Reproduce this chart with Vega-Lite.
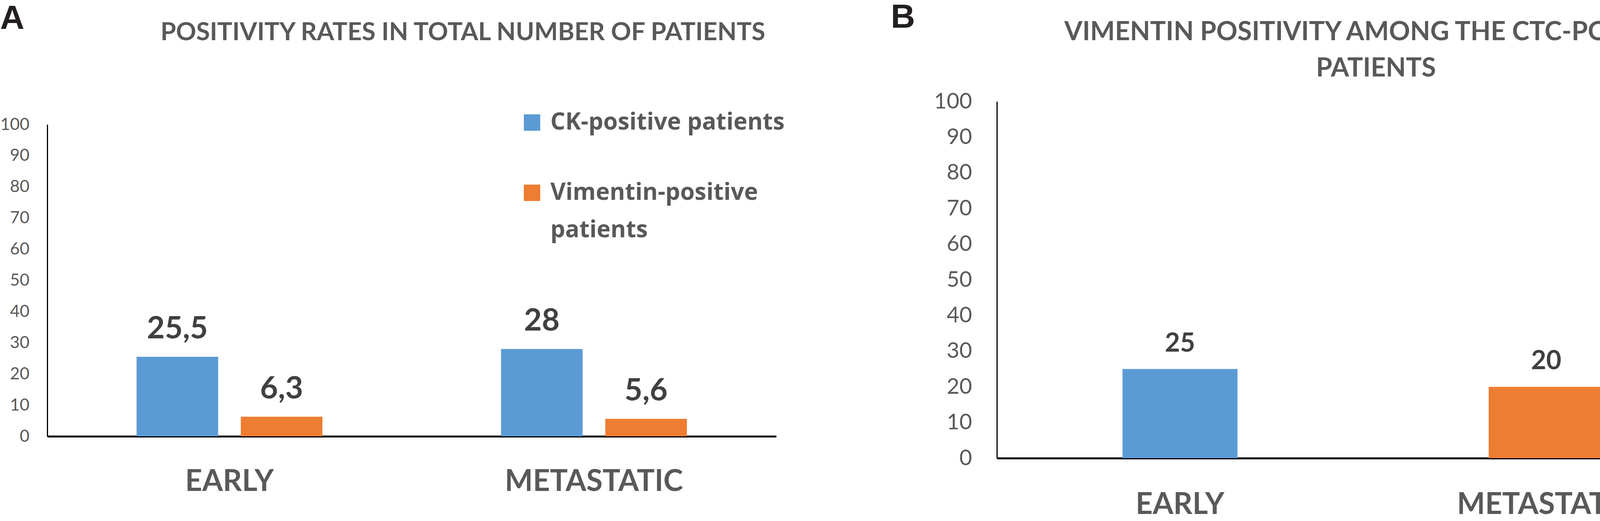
{
  "$schema": "https://vega.github.io/schema/vega-lite/v6.json",
  "background": "white",
  "padding": {"left": 0, "top": 2, "right": 0, "bottom": 0},
  "spacing": 271,
  "resolve": {"scale": {"color": "independent"}, "legend": {"color": "independent"}},
  "config": {
    "view": {"stroke": null},
    "locale": {"number": {"decimal": ",", "thousands": ".", "grouping": [3], "currency": ["", " €"]}},
    "style": {"guide-label": {"lineHeight": 96}},
    "axis": {"grid": false, "ticks": false, "domainColor": "#000000", "labelColor": "#595959", "labelFont": "Lato", "title": null, "labelLimit": 2000}
  },
  "hconcat": [
    {
      "title": {"text": "A", "anchor": "start", "frame": "bounds", "font": "Liberation Sans", "fontSize": 86, "fontWeight": "bold", "color": "#231F20", "offset": -40},
      "vconcat": [
        {
          "width": 1866,
          "height": 858,
          "title": {"text": "POSITIVITY RATES IN TOTAL NUMBER OF PATIENTS", "anchor": "middle", "frame": "group", "dx": 131, "offset": 144, "font": "Lato", "fontSize": 64, "fontWeight": "bold", "color": "#595959"},
          "data": {"values": [
            {"stage": "EARLY", "group": "CK-positive patients", "value": 25.5},
            {"stage": "EARLY", "group": "Vimentin-positive patients", "value": 6.3},
            {"stage": "METASTATIC", "group": "CK-positive patients", "value": 28},
            {"stage": "METASTATIC", "group": "Vimentin-positive patients", "value": 5.6}
          ]},
          "encoding": {
            "x": {"field": "stage", "type": "nominal", "sort": ["EARLY", "METASTATIC"],
              "scale": {"paddingInner": 0.49, "paddingOuter": 0.245},
              "axis": {"labelAngle": 0, "labelFontSize": 76, "labelFontWeight": "bold", "labelPadding": 79, "domainWidth": 5}},
            "xOffset": {"field": "group", "type": "nominal", "scale": {"paddingInner": 0.217, "paddingOuter": 0}},
            "y": {"field": "value", "type": "quantitative", "scale": {"domain": [0, 100], "range": [858, 59]},
              "axis": {"values": [0, 10, 20, 30, 40, 50, 60, 70, 80, 90, 100], "labelFontSize": 43, "labelPadding": 46, "domainWidth": 3}}
          },
          "layer": [
            {
              "mark": {"type": "bar"},
              "encoding": {
                "color": {"field": "group", "type": "nominal",
                  "scale": {"domain": ["CK-positive patients", "Vimentin-positive patients"], "range": ["#5B9BD5", "#ED7D31"]},
                  "legend": {"title": null, "orient": "none", "legendX": 1211, "legendY": 24, "direction": "vertical", "padding": 0,
                    "symbolType": "square", "symbolSize": 1764, "symbolStrokeWidth": 0, "labelFont": "Open Sans", "labelFontSize": 60, "labelFontWeight": "bold", "labelColor": "#595959", "labelOffset": 17, "rowPadding": 120, "labelLimit": 2000,
                    "labelExpr": "datum.label == 'Vimentin-positive patients' ? ['Vimentin-positive', 'patients'] : datum.label"}
                }
              }
            },
            {
              "mark": {"type": "text", "baseline": "alphabetic", "dy": -47, "font": "Lato", "fontSize": 79, "fontWeight": "bold", "color": "#404040"},
              "encoding": {"text": {"field": "value", "type": "quantitative", "format": ".1~f"}}
            }
          ]
        }
      ]
    },
    {
      "title": {"text": "B", "anchor": "start", "frame": "bounds", "font": "Liberation Sans", "fontSize": 86, "fontWeight": "bold", "color": "#231F20", "offset": -40, "dx": -110},
      "vconcat": [
        {
          "width": 1875,
          "height": 914,
          "title": {"text": ["VIMENTIN POSITIVITY AMONG THE CTC-POSITIVE", "PATIENTS"], "lineHeight": 93, "anchor": "middle", "frame": "group", "dx": 33, "offset": 22, "font": "Lato", "fontSize": 67, "fontWeight": "bold", "color": "#595959"},
          "data": {"values": [
            {"stage": "EARLY", "value": 25},
            {"stage": "METASTATIC", "value": 20}
          ]},
          "encoding": {
            "x": {"field": "stage", "type": "nominal", "sort": ["EARLY", "METASTATIC"],
              "scale": {"paddingInner": 0.686, "paddingOuter": 0.343},
              "axis": {"labelAngle": 0, "labelFontSize": 76, "labelFontWeight": "bold", "labelPadding": 82, "domainWidth": 5}},
            "y": {"field": "value", "type": "quantitative", "scale": {"domain": [0, 100]},
              "axis": {"values": [0, 10, 20, 30, 40, 50, 60, 70, 80, 90, 100], "labelFontSize": 56, "labelPadding": 64, "domainWidth": 3}}
          },
          "layer": [
            {
              "mark": {"type": "bar"},
              "encoding": {
                "color": {"field": "stage", "type": "nominal", "scale": {"domain": ["EARLY", "METASTATIC"], "range": ["#5B9BD5", "#ED7D31"]}, "legend": null}
              }
            },
            {
              "mark": {"type": "text", "baseline": "alphabetic", "dy": -45, "font": "Lato", "fontSize": 67, "fontWeight": "bold", "color": "#404040"},
              "encoding": {"text": {"field": "value", "type": "quantitative", "format": ".1~f"}}
            }
          ]
        }
      ]
    }
  ]
}
